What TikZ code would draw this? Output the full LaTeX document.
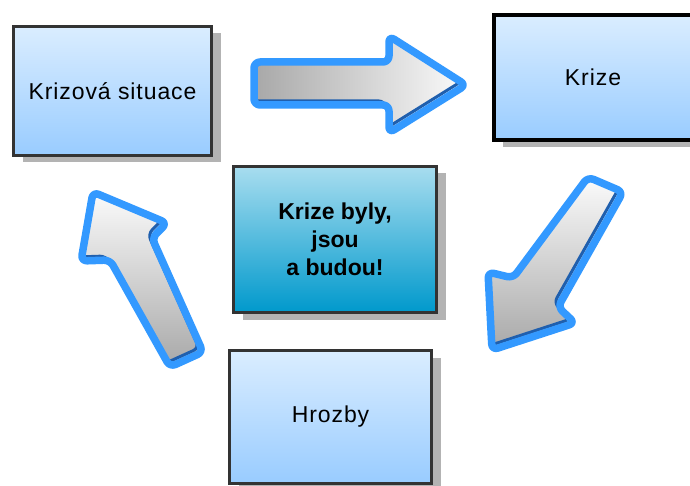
\documentclass[tikz,border=0pt]{standalone}
\usepackage{fontspec}
\setmainfont{Liberation Sans}
\usetikzlibrary{shadows}

\definecolor{boxtop}{HTML}{DAEDFF}
\definecolor{boxbot}{HTML}{99CCFF}
\definecolor{midtop}{HTML}{A8DDEF}
\definecolor{midbot}{HTML}{0099CC}
\definecolor{frame}{HTML}{333333}
\definecolor{shadowgray}{HTML}{B3B3B3}
\definecolor{rim}{HTML}{3399FF}
\definecolor{rimdark}{HTML}{1F5FAE}
\definecolor{arrowdark}{HTML}{A8A8A8}
\definecolor{arrowlight}{HTML}{FBFBFB}

\tikzset{
  box/.style={draw=frame, line width=3pt, top color=boxtop, bottom color=boxbot,
    align=center, text=black, inner sep=0pt,
    font=\fontsize{23}{28}\selectfont\addfontfeatures{LetterSpace=4},
    drop shadow={shadow xshift=9pt, shadow yshift=-7pt, fill=shadowgray, opacity=1}},
  midbox/.style={box, top color=midtop, bottom color=midbot,
    font=\fontsize{23}{28}\selectfont\bfseries},
  arrowrim/.style={draw=rim, line width=7.5pt, line join=round},
  arrowinner/.style={draw=rimdark, line width=3pt, line join=round},
  arrowbody/.style={rounded corners=6pt},
}

% block arrow: #1 = shading of the body, #2 = outline path
\newcommand\blockarrow[2]{%
  \path[arrowbody, #1] #2;
  \begin{scope}
    \clip[arrowbody] #2;
    \draw[arrowbody, arrowinner, shift={(-4,-4)}] #2;
  \end{scope}
  \draw[arrowbody, arrowrim] #2;
}

\begin{document}
\begin{tikzpicture}[x=1pt, y=-1pt]
  \useasboundingbox (0,0) rectangle (690,486);
  \clip (0,0) rectangle (690,486);

  % boxes
  \node[box, minimum width=198pt, minimum height=129pt] (situace) at (112.5,91) {Krizová situace};
  \node[box, draw=black, line width=4pt, minimum width=198pt, minimum height=125pt] (krize) at (593,77.5) {Krize};
  \node[midbox, minimum width=203pt, minimum height=146pt] (budou) at (335,239.5) {Krize byly,\\jsou\\a budou!};
  \node[box, minimum width=202pt, minimum height=132.5pt] (hrozby) at (330.5,416.75) {Hrozby};

  % arrow: Krizová situace -> Krize
  \blockarrow{left color=arrowdark, right color=arrowlight}
    {(254,62) -- (389,62) -- (389,36) -- (466,85) -- (389,133) -- (389,105) -- (254,105) -- cycle}

  % arrow: Krize -> Hrozby
  \blockarrow{top color=arrowlight, bottom color=arrowdark}
    {(588,177) -- (623,192) -- (558,307) -- (575,323) -- (492,350) -- (488,272) -- (513,278) -- cycle}

  % arrow: Hrozby -> Krizová situace
  \blockarrow{top color=arrowlight, bottom color=arrowdark}
    {(93,192) -- (167,223) -- (152,238) -- (203,352) -- (170,367) -- (110,260) -- (81,261) -- cycle}
\end{tikzpicture}
\end{document}
